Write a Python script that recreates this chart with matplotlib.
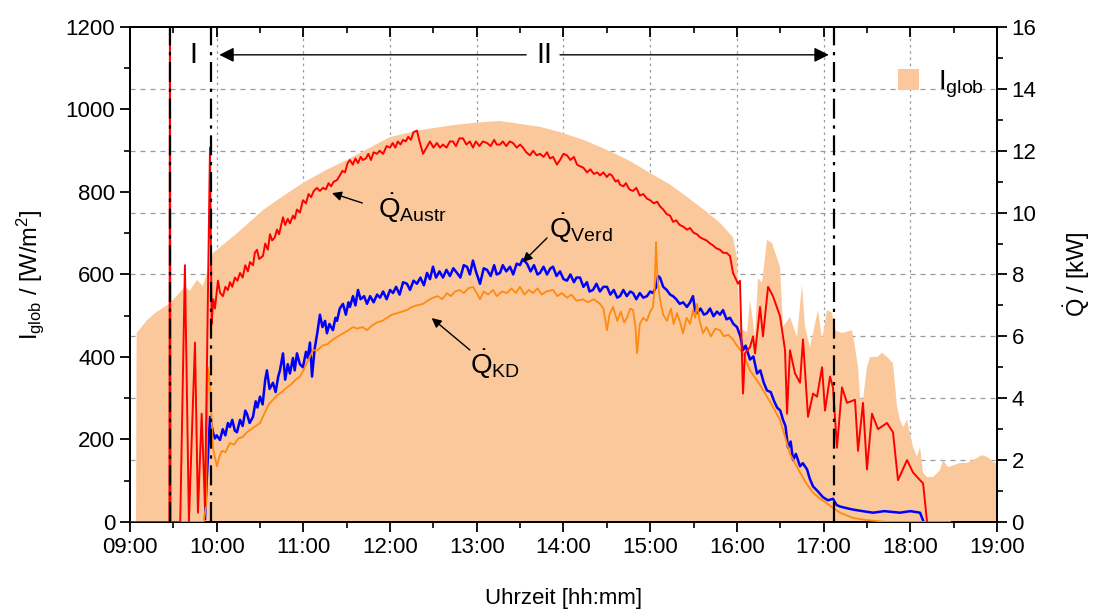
import numpy as np
import matplotlib
matplotlib.use("Agg")
import matplotlib.pyplot as plt
from matplotlib.ticker import MultipleLocator, FuncFormatter
from matplotlib.patches import Patch

plt.rcParams['font.family'] = ['Liberation Sans', 'DejaVu Sans']
plt.rcParams['mathtext.fontset'] = 'custom'
plt.rcParams['mathtext.rm'] = 'Liberation Sans'
plt.rcParams['mathtext.it'] = 'Liberation Sans:italic'
plt.rcParams['mathtext.bf'] = 'Liberation Sans:bold'

# ---------------- data (time in decimal hours) ----------------
t_glob = [9.07, 9.077, 9.2, 9.3, 9.461, 9.634, 9.69, 9.773, 9.84, 9.957, 10.234, 10.534,
          10.765, 10.995, 11.25, 11.503, 11.745, 11.999, 12.345, 12.725, 12.98, 13.268,
          13.498, 13.73, 13.96, 14.248, 14.502, 14.767, 14.998, 15.23, 15.424, 15.632,
          15.805, 15.955, 16.001, 16.035, 16.116, 16.151, 16.209, 16.243, 16.29, 16.347,
          16.405, 16.497, 16.532, 16.612, 16.693, 16.751, 16.785, 16.843, 16.935, 16.982,
          17.039, 17.097, 17.131, 17.211, 17.328, 17.362, 17.397, 17.42, 17.454, 17.5,
          17.535, 17.616, 17.674, 17.731, 17.8, 17.847, 17.881, 17.916, 17.962, 18.031,
          18.077, 18.112, 18.147, 18.193, 18.262, 18.343, 18.377, 18.435, 18.573, 18.654,
          18.723, 18.827, 18.885, 18.977, 19.0]
I_glob = [0, 458, 490, 508, 530, 570, 560, 587, 572, 652, 700, 756,
          790, 822, 852, 878, 905, 933, 950, 962, 968, 972,
          965, 958, 945, 925, 902, 875, 846, 818, 788, 755,
          725, 690, 640, 470, 460, 538, 449, 591, 580, 684,
          676, 618, 473, 497, 449, 575, 473, 424, 514, 441,
          514, 507, 465, 458, 465, 424, 376, 303, 296, 376,
          400, 400, 410, 400, 385, 279, 247, 230, 247, 182,
          158, 182, 119, 109, 109, 126, 150, 133, 143, 143,
          150, 162, 158, 143, 143]

t_austr = [9.0, 9.455, 9.461, 9.468, 9.58, 9.634, 9.68, 9.75, 9.784, 9.827, 9.865, 9.923,
           9.942, 9.96, 9.98, 10.015, 10.04, 10.073, 10.10, 10.13, 10.153, 10.18, 10.21, 10.24,
           10.269, 10.30, 10.33, 10.36, 10.384, 10.42, 10.44, 10.465, 10.49, 10.534, 10.56,
           10.59, 10.615, 10.64, 10.67, 10.696, 10.72, 10.765, 10.79, 10.82, 10.845, 10.88,
           10.90, 10.926, 10.96, 10.995, 11.03, 11.06, 11.09, 11.12, 11.157, 11.19, 11.226,
           11.26, 11.29, 11.32, 11.35, 11.388, 11.42, 11.45, 11.48, 11.51, 11.537, 11.57,
           11.60, 11.63, 11.66, 11.687, 11.72, 11.75, 11.78, 11.81, 11.849, 11.88, 11.92,
           11.96, 11.999, 12.03, 12.06, 12.09, 12.12, 12.149, 12.18, 12.21, 12.24, 12.27,
           12.31, 12.34, 12.38, 12.42, 12.46, 12.50, 12.54, 12.576, 12.61, 12.65, 12.69,
           12.725, 12.76, 12.80, 12.841, 12.88, 12.92, 12.956, 12.99, 13.03, 13.07, 13.118,
           13.16, 13.20, 13.23, 13.268, 13.30, 13.34, 13.38, 13.418, 13.46, 13.50, 13.533,
           13.57, 13.614, 13.65, 13.69, 13.729, 13.77, 13.81, 13.844, 13.88, 13.925, 13.96,
           14.0, 14.04, 14.08, 14.12, 14.156, 14.19, 14.23, 14.271, 14.31, 14.35, 14.39,
           14.421, 14.46, 14.50, 14.53, 14.559, 14.60, 14.63, 14.652, 14.69, 14.72, 14.76,
           14.802, 14.84, 14.88, 14.92, 14.963, 15.00, 15.04, 15.08, 15.113, 15.15, 15.19,
           15.23, 15.263, 15.30, 15.34, 15.38, 15.424, 15.46, 15.50, 15.54, 15.574, 15.61,
           15.65, 15.69, 15.72, 15.76, 15.805, 15.84, 15.88, 15.92, 15.955, 16.013, 16.035,
           16.07, 16.093, 16.151, 16.186, 16.209, 16.267, 16.301, 16.359, 16.416, 16.497,
           16.555, 16.578, 16.612, 16.67, 16.728, 16.762, 16.82, 16.878, 16.924, 16.982,
           17.016, 17.074, 17.108, 17.154, 17.212, 17.27, 17.362, 17.397, 17.454, 17.5,
           17.558, 17.627, 17.731, 17.8, 17.858, 17.962, 18.031, 18.112, 18.147, 18.193]
Q_austr = [0, 0, 17, 0, 0, 8.3, 0, 5.8, 0.3, 3.5, 0.5, 12.1,
           6.4, 7.2, 6.9, 7.8, 7.4, 7.3, 7.6, 7.5, 7.75, 7.6, 7.9, 7.8,
           8.05, 7.9, 8.3, 8.1, 8.4, 8.3, 8.7, 8.8, 8.5, 8.6, 9.0,
           8.8, 9.3, 9.1, 9.2, 9.45, 9.3, 9.85, 9.6, 9.8, 9.65, 9.9,
           9.8, 10.1, 10.0, 10.4, 10.3, 10.6, 10.5, 10.7, 10.8, 10.7, 10.8,
           10.75, 10.95, 10.85, 11.0, 11.05, 11.2, 11.35, 11.3, 11.6, 11.7, 11.55,
           11.75, 11.6, 11.8, 11.7, 11.75, 11.9, 11.7, 11.95, 11.9, 12.0, 11.9,
           12.15, 12.1, 12.25, 12.1, 12.3, 12.2, 12.35, 12.3, 12.45, 12.35, 12.6,
           12.65, 12.3, 11.9, 12.1, 12.3, 12.1, 12.25, 12.1, 12.2, 12.1, 12.3,
           12.3, 12.15, 12.4, 12.4, 12.2, 12.3, 12.1, 12.3, 12.15, 12.3, 12.25,
           12.15, 12.35, 12.2, 12.2, 12.3, 12.15, 12.3, 12.25, 12.1, 12.2, 12.1,
           11.95, 11.85, 12.0, 11.85, 11.9, 11.8, 11.95, 11.75, 11.8, 11.55, 11.7,
           11.9, 11.85, 11.7, 11.8, 11.55, 11.5, 11.45, 11.3, 11.4, 11.25, 11.3,
           11.2, 11.3, 11.15, 11.25, 11.2, 11.0, 11.05, 10.9, 10.85, 10.95, 10.75,
           10.7, 10.8, 10.55, 10.6, 10.45, 10.4, 10.3, 10.35, 10.2, 10.1, 9.95,
           9.9, 9.7, 9.75, 9.6, 9.55, 9.45, 9.5, 9.35, 9.3, 9.2, 9.15,
           9.1, 9.0, 8.95, 8.85, 8.8, 8.7, 8.7, 8.6, 8.05, 7.7, 7.8,
           4.15, 5.45, 5.65, 6.0, 5.45, 6.95, 6.0, 7.6, 7.3, 6.65,
           5.55, 3.5, 5.55, 4.8, 4.5, 5.9, 3.4, 4.15, 4.05, 5.0,
           3.6, 4.7, 4.35, 2.4, 4.35, 3.85, 3.95, 2.3, 3.85, 1.7,
           3.5, 3.0, 3.2, 2.9, 1.35, 2.0, 1.6, 1.35, 1.25, 0.0]

t_verd = [9.865, 9.888, 9.923, 9.957, 9.98, 10.0, 10.038, 10.07, 10.10, 10.13, 10.153, 10.18,
          10.21, 10.234, 10.27, 10.30, 10.33, 10.349, 10.38, 10.419, 10.45, 10.47, 10.5, 10.53,
          10.56, 10.58, 10.61, 10.649, 10.68, 10.71, 10.73, 10.765, 10.79, 10.82, 10.845,
          10.88, 10.90, 10.926, 10.96, 10.995, 11.03, 11.05, 11.076, 11.10, 11.13, 11.16,
          11.191, 11.22, 11.25, 11.272, 11.30, 11.341, 11.37, 11.388, 11.42, 11.457, 11.49,
          11.52, 11.537, 11.572, 11.60, 11.63, 11.66, 11.70, 11.734, 11.77, 11.81, 11.85,
          11.884, 11.92, 11.96, 12.0, 12.034, 12.07, 12.11, 12.15, 12.195, 12.23, 12.27,
          12.31, 12.35, 12.39, 12.426, 12.46, 12.495, 12.53, 12.57, 12.61, 12.65, 12.69,
          12.73, 12.772, 12.81, 12.85, 12.887, 12.92, 12.956, 12.99, 13.037, 13.08, 13.118,
          13.16, 13.2, 13.23, 13.268, 13.30, 13.34, 13.383, 13.42, 13.46, 13.498, 13.53,
          13.579, 13.62, 13.66, 13.70, 13.729, 13.77, 13.81, 13.85, 13.879, 13.92, 13.96,
          14.0, 14.04, 14.08, 14.12, 14.15, 14.19, 14.23, 14.27, 14.30, 14.34, 14.38, 14.42,
          14.46, 14.502, 14.54, 14.58, 14.62, 14.652, 14.69, 14.73, 14.77, 14.802, 14.84,
          14.88, 14.92, 14.963, 15.00, 15.032, 15.07, 15.09, 15.113, 15.15, 15.19, 15.23,
          15.263, 15.30, 15.34, 15.38, 15.424, 15.46, 15.493, 15.52, 15.54, 15.58, 15.62,
          15.655, 15.69, 15.73, 15.77, 15.805, 15.84, 15.88, 15.92, 15.96, 16.001, 16.04,
          16.07, 16.10, 16.151, 16.19, 16.232, 16.27, 16.31, 16.347, 16.39, 16.43, 16.463,
          16.50, 16.532, 16.56, 16.59, 16.62, 16.647, 16.68, 16.728, 16.76, 16.809, 16.84,
          16.878, 16.93, 16.993, 17.05, 17.108, 17.15, 17.189, 17.26, 17.339, 17.45, 17.57,
          17.7, 17.881, 18.0, 18.112, 18.147]
Q_verd = [0.1, 1.5, 3.4, 2.9, 2.7, 2.8, 2.65, 3.0, 2.8, 3.2, 3.07, 3.3,
          2.95, 2.9, 3.3, 3.1, 3.6, 3.5, 3.2, 3.4, 3.9, 3.7, 4.05, 3.8,
          4.6, 4.9, 4.3, 4.5, 4.2, 4.7, 4.9, 5.45, 4.6, 5.1, 4.8,
          5.3, 4.9, 5.45, 5.1, 5.0, 5.5, 5.3, 5.8, 4.7, 5.6, 6.1,
          6.7, 6.3, 6.5, 6.1, 6.4, 6.2, 6.6, 6.5, 6.9, 7.05, 6.7,
          7.1, 6.95, 7.3, 7.0, 7.5, 7.2, 7.3, 7.05, 7.3, 7.1, 7.35,
          7.25, 7.45, 7.2, 7.5, 7.4, 7.6, 7.35, 7.75, 7.7, 7.5, 7.8,
          7.7, 7.9, 7.65, 8.05, 7.85, 8.25, 7.9, 8.1, 7.9, 8.15, 7.95,
          8.2, 8.05, 7.9, 8.3, 8.25, 8.0, 8.45, 8.1, 7.7, 8.2, 8.15,
          7.95, 8.3, 8.0, 8.05, 8.3, 8.1, 8.25, 8.0, 8.35, 8.3, 8.5,
          8.35, 8.1, 8.3, 8.0, 8.05, 8.25, 8.0, 8.2, 8.25, 7.95, 8.1,
          7.85, 7.8, 8.0, 7.75, 7.9, 7.9, 7.6, 7.75, 7.45, 7.5, 7.7, 7.45,
          7.6, 7.6, 7.35, 7.5, 7.25, 7.3, 7.5, 7.3, 7.45, 7.4, 7.2,
          7.4, 7.25, 7.3, 7.45, 7.4, 7.6, 7.95, 7.9, 7.6, 7.5, 7.35,
          7.3, 7.2, 7.05, 7.1, 6.95, 7.1, 7.3, 6.8, 6.75, 6.9, 6.7,
          6.75, 6.9, 6.65, 6.8, 6.7, 6.85, 6.55, 6.6, 6.4, 6.3, 6.0,
          5.55, 5.7, 5.25, 5.35, 4.8, 4.9, 4.5, 4.25, 4.2, 3.9, 3.7,
          3.6, 3.3, 3.1, 2.4, 2.6, 2.0, 2.2, 1.8, 1.9, 1.7, 1.4,
          1.15, 1.0, 0.8, 0.7, 0.75, 0.55, 0.5, 0.45, 0.4, 0.35, 0.3,
          0.35, 0.3, 0.35, 0.3, 0.05]

t_kd = [9.0, 9.85, 9.877, 9.9, 9.923, 9.957, 10.003, 10.03, 10.06, 10.10, 10.153, 10.20,
        10.25, 10.30, 10.349, 10.40, 10.45, 10.5, 10.55, 10.60, 10.649, 10.70, 10.75, 10.811,
        10.86, 10.91, 10.961, 11.0, 11.05, 11.111, 11.16, 11.22, 11.28, 11.341, 11.40, 11.46,
        11.52, 11.572, 11.62, 11.68, 11.734, 11.79, 11.85, 11.91, 11.964, 12.02, 12.08,
        12.14, 12.195, 12.25, 12.31, 12.38, 12.43, 12.495, 12.55, 12.60, 12.656, 12.70,
        12.75, 12.806, 12.85, 12.90, 12.956, 13.0, 13.037, 13.08, 13.13, 13.187, 13.23,
        13.29, 13.348, 13.40, 13.45, 13.498, 13.55, 13.60, 13.648, 13.70, 13.75, 13.80,
        13.879, 13.93, 13.98, 14.04, 14.09, 14.15, 14.225, 14.28, 14.35, 14.421, 14.46,
        14.502, 14.53, 14.571, 14.62, 14.66, 14.70, 14.732, 14.77, 14.802, 14.83, 14.848,
        14.88, 14.917, 14.96, 15.0, 15.032, 15.05, 15.067, 15.085, 15.113, 15.15, 15.194,
        15.24, 15.27, 15.309, 15.34, 15.378, 15.42, 15.46, 15.493, 15.52, 15.54, 15.57,
        15.609, 15.65, 15.70, 15.75, 15.805, 15.85, 15.90, 15.955, 16.0, 16.07, 16.151,
        16.25, 16.347, 16.42, 16.497, 16.55, 16.612, 16.67, 16.728, 16.80, 16.878, 16.96,
        17.039, 17.11, 17.189, 17.339, 17.5, 17.731, 18.46]
Q_kd = [0, 0, 0.5, 5.0, 4.5, 2.4, 1.8, 2.1, 2.3, 2.25, 2.55, 2.5,
        2.7, 2.75, 2.9, 3.0, 3.1, 3.2, 3.5, 3.8, 3.95, 4.1, 4.2, 4.35,
        4.45, 4.6, 4.7, 4.9, 5.2, 5.55, 5.55, 5.7, 5.75, 5.9, 6.0, 6.1,
        6.2, 6.3, 6.25, 6.3, 6.2, 6.35, 6.45, 6.5, 6.6, 6.7, 6.75,
        6.8, 6.85, 6.95, 7.0, 7.05, 7.15, 7.25, 7.3, 7.2, 7.4, 7.3,
        7.45, 7.5, 7.4, 7.55, 7.6, 7.4, 7.2, 7.45, 7.35, 7.5, 7.3,
        7.45, 7.4, 7.55, 7.4, 7.6, 7.35, 7.5, 7.4, 7.55, 7.35, 7.45,
        7.5, 7.3, 7.4, 7.25, 7.35, 7.15, 7.2, 7.1, 7.2, 7.05, 6.9,
        6.2, 6.7, 6.95, 6.5, 6.8, 6.45, 6.6, 6.9, 6.85, 6.3, 5.45,
        6.4, 6.6, 6.5, 6.8, 6.95, 7.5, 9.05, 7.8, 7.2, 6.7, 6.5,
        6.9, 6.4, 6.75, 6.5, 6.1, 6.6, 6.4, 6.85, 6.6, 7.05, 6.5,
        6.1, 6.3, 6.0, 6.25, 6.2, 6.0, 6.05, 5.9, 5.7, 5.45, 4.9,
        4.5, 4.05, 3.7, 3.3, 2.8, 2.2, 1.9, 1.6, 1.25, 0.95, 0.75,
        0.6, 0.45, 0.3, 0.13, 0.06, 0.0, 0.0]

phase_bounds = [9.461, 9.94, 17.12]
hours = list(range(9, 20))

# ---------------- figure ----------------
fig = plt.figure(figsize=(10.93, 6.09), dpi=100)
rect = [0.1189, 0.1429, 0.7933, 0.8128]

# background axes holding only the grid
axg = fig.add_axes(rect, zorder=0)
axg.set_xlim(9, 19)
axg.set_ylim(0, 16)
for v in np.arange(2, 16, 2):
    axg.axhline(v, color='#9a9a9a', ls=(0, (4, 4)), lw=0.9)
for h in hours[1:-1]:
    axg.axvline(h, color='#9a9a9a', ls=(0, (2, 3)), lw=0.9)
axg.axis('off')

ax = fig.add_axes(rect, zorder=1)
ax.patch.set_visible(False)
ax.set_xlim(9, 19)
ax.set_ylim(0, 1200)
ax2 = ax.twinx()
ax2.set_ylim(0, 16)

fill_c = '#FAC89B'
ax.fill_between(t_glob, 0, I_glob, facecolor=fill_c, edgecolor='none', lw=0, zorder=2)

ax2.plot(t_verd, Q_verd, color='#0000FF', lw=1.8, zorder=3)
ax2.plot(t_kd, Q_kd, color='#FF8A10', lw=1.3, zorder=4)
ax2.plot(t_austr, Q_austr, color='#FF0000', lw=1.4, zorder=5)
for b in phase_bounds:
    ax2.axvline(b, color='black', lw=1.6, ls=(0, (9, 3, 1.5, 3)), zorder=6)

# region arrows / labels
ax2.annotate('', xy=(10.03, 15.1), xytext=(13.57, 15.1),
             arrowprops=dict(arrowstyle='-|>', color='black', lw=1.0, mutation_scale=22,
                             shrinkA=0, shrinkB=0))
ax2.annotate('', xy=(17.06, 15.1), xytext=(13.96, 15.1),
             arrowprops=dict(arrowstyle='-|>', color='black', lw=1.0, mutation_scale=22,
                             shrinkA=0, shrinkB=0))
ax2.text(9.733, 15.1, 'I', fontsize=21, ha='center', va='center')
ax2.text(13.775, 15.1, 'II', fontsize=21, ha='center', va='center')

# series labels
lab_kw = dict(fontsize=20, ha='left', va='center')
ax2.text(11.86, 10.15, r'$\dot{\mathrm{Q}}_{\mathrm{Austr}}$', **lab_kw)
ax2.text(13.83, 9.5, r'$\dot{\mathrm{Q}}_{\mathrm{Verd}}$', **lab_kw)
ax2.text(12.92, 5.1, r'$\dot{\mathrm{Q}}_{\mathrm{KD}}$', **lab_kw)
arr = dict(arrowstyle='-|>', color='black', lw=1.0, mutation_scale=14, shrinkA=0, shrinkB=0)
ax2.annotate('', xy=(11.33, 10.63), xytext=(11.68, 10.31), arrowprops=arr)
ax2.annotate('', xy=(13.53, 8.40), xytext=(13.81, 9.18), arrowprops=arr)
ax2.annotate('', xy=(12.48, 6.59), xytext=(12.92, 5.56), arrowprops=arr)

# legend
leg = ax.legend(handles=[Patch(facecolor=fill_c, edgecolor='none')],
                labels=[r'I$_{\mathrm{glob}}$'], loc='center left',
                bbox_to_anchor=(0.857, 0.885), frameon=False, fontsize=20,
                handlelength=0.75, handleheight=0.75, handletextpad=0.7)

# axes styling
ax.set_xticks(hours)
ax.xaxis.set_major_formatter(FuncFormatter(lambda v, p: f"{int(round(v)):02d}:00"))
ax.xaxis.set_minor_locator(MultipleLocator(0.5))
ax.yaxis.set_major_locator(MultipleLocator(200))
ax.yaxis.set_minor_locator(MultipleLocator(100))
ax2.yaxis.set_major_locator(MultipleLocator(2))
ax2.yaxis.set_minor_locator(MultipleLocator(1))

for a in (ax, ax2):
    a.tick_params(which='major', length=7, width=1.3, labelsize=16, direction='out')
    a.tick_params(which='minor', length=4, width=1.2, direction='out')
    for s in a.spines.values():
        s.set_linewidth(1.4)

sec = ax.secondary_xaxis('top')
sec.set_xticks(hours)
sec.xaxis.set_minor_locator(MultipleLocator(0.5))
sec.tick_params(which='major', direction='in', length=7, width=1.3, labeltop=False)
sec.tick_params(which='minor', direction='in', length=4, width=1.2)
sec.spines['top'].set_linewidth(1.4)

ax.set_xlabel('Uhrzeit [hh:mm]', fontsize=16, labelpad=22)
ax.set_ylabel(r'I$_{\mathrm{glob}}$ / [W/m$^2$]', fontsize=17, labelpad=14)
ax2.set_ylabel(r'$\dot{\mathrm{Q}}$ / [kW]', fontsize=17, labelpad=18)

fig.savefig('out.png', dpi=100)
